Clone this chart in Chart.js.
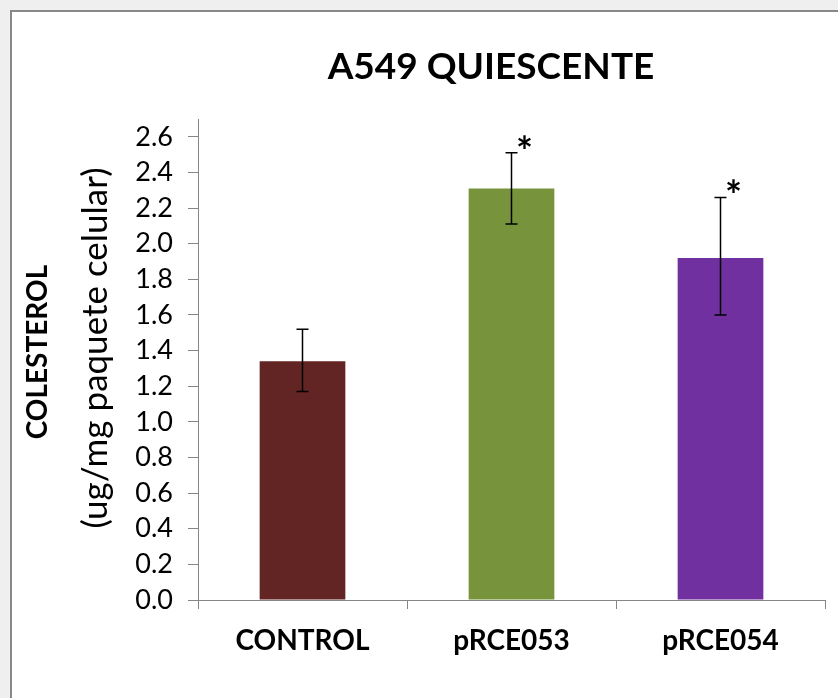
<!DOCTYPE html>
<html>
<head>
<meta charset="utf-8">
<script src="https://cdn.jsdelivr.net/npm/chart.js@4.4.1/dist/chart.umd.min.js"></script>
<style>
  html, body { margin: 0; padding: 0; }
  body { width: 838px; height: 698px; background: #efefef; position: relative; overflow: hidden; }
  #frame { position: absolute; left: 10px; top: 10px; width: 900px; height: 800px;
           background: #ffffff; border-left: 2px solid #888888; border-top: 2px solid #888888; }
  #wrap { position: absolute; left: 0; top: 0; width: 838px; height: 698px; }
</style>
</head>
<body>
<div id="frame"></div>
<div id="wrap"><canvas id="c" width="838" height="698"></canvas></div>
<script>
// Cholesterol content per cell pellet, quiescent A549 cells
const categories = ['CONTROL', 'pRCE053', 'pRCE054'];
const cholesterol = [1.34, 2.31, 1.92];
const errLow = [1.17, 2.11, 1.60];
const errHigh = [1.52, 2.51, 2.26];
const significance = ['', '*', '*'];
const barColors = ['#632523', '#77933C', '#7030A0'];
const yTickValues = [0.0, 0.2, 0.4, 0.6, 0.8, 1.0, 1.2, 1.4, 1.6, 1.8, 2.0, 2.2, 2.4, 2.6];
const chartTitle = 'A549 QUIESCENTE';
const yTitleMain = 'COLESTEROL';
const yTitleUnits = '(ug/mg paquete celular)';

const FONT = 'Lato, "Open Sans", "DejaVu Sans", sans-serif';

// Error bars with caps, plus significance marks above them
const errorBarPlugin = {
  id: 'errorBars',
  afterDatasetsDraw(chart) {
    const ctx = chart.ctx;
    const yScale = chart.scales.y;
    const meta = chart.getDatasetMeta(0);
    ctx.save();
    meta.data.forEach((bar, i) => {
      const x = bar.x;
      const yHi = yScale.getPixelForValue(errHigh[i]);
      const yLo = yScale.getPixelForValue(errLow[i]);
      ctx.strokeStyle = '#000000';
      ctx.lineWidth = 1.5;
      ctx.beginPath();
      ctx.moveTo(x, yHi); ctx.lineTo(x, yLo);
      ctx.moveTo(x - 6, yHi); ctx.lineTo(x + 6, yHi);
      ctx.moveTo(x - 6, yLo); ctx.lineTo(x + 6, yLo);
      ctx.stroke();
      if (significance[i]) {
        ctx.fillStyle = '#000000';
        ctx.font = 'bold 40px ' + FONT;
        ctx.textAlign = 'center';
        ctx.textBaseline = 'alphabetic';
        ctx.fillText(significance[i], x + 13, yHi + 13);
      }
    });
    ctx.restore();
  }
};

// Title centred over the plot, and a two-line vertical axis title
const textPlugin = {
  id: 'chartTexts',
  afterDraw(chart) {
    const ctx = chart.ctx;
    ctx.save();
    ctx.fillStyle = '#000000';
    ctx.textAlign = 'center';
    ctx.textBaseline = 'middle';
    ctx.font = 'bold 37px ' + FONT;
    ctx.fillText(chartTitle, 491, 67);
    ctx.restore();

    ctx.save();
    ctx.fillStyle = '#000000';
    ctx.textAlign = 'center';
    ctx.textBaseline = 'middle';
    ctx.translate(38, 352);
    ctx.rotate(-Math.PI / 2);
    ctx.font = 'bold 28px ' + FONT;
    ctx.fillText(yTitleMain, 0, 0);
    ctx.restore();

    ctx.save();
    ctx.fillStyle = '#000000';
    ctx.textAlign = 'center';
    ctx.textBaseline = 'middle';
    ctx.translate(96, 348);
    ctx.rotate(-Math.PI / 2);
    ctx.font = '35px ' + FONT;
    ctx.fillText(yTitleUnits, 0, 0);
    ctx.restore();
  }
};

new Chart(document.getElementById('c'), {
  type: 'bar',
  data: {
    labels: categories,
    datasets: [{
      data: cholesterol,
      backgroundColor: barColors,
      borderWidth: 0,
      barPercentage: 0.41,
      categoryPercentage: 1.0
    }]
  },
  plugins: [errorBarPlugin, textPlugin],
  options: {
    responsive: false,
    animation: false,
    devicePixelRatio: 1,
    layout: { padding: { left: 0, right: 13, top: 119, bottom: 0 } },
    plugins: {
      legend: { display: false },
      tooltip: { enabled: false },
      title: { display: false }
    },
    scales: {
      x: {
        offset: true,
        grid: { offset: true, drawOnChartArea: false, drawTicks: true, tickLength: 9, color: '#868686' },
        border: { display: true, color: '#868686', width: 1 },
        ticks: { color: '#000000', padding: 15, font: { family: FONT, size: 28, weight: 'bold' } },
        afterFit(scale) { scale.height = 98; }
      },
      y: {
        min: 0,
        max: 2.7,
        afterBuildTicks(scale) { scale.ticks = yTickValues.map(v => ({ value: v })); },
        grid: { drawOnChartArea: false, drawTicks: true, tickLength: 10, color: '#868686' },
        border: { display: true, color: '#868686', width: 1 },
        ticks: {
          color: '#000000',
          padding: 15,
          font: { family: FONT, size: 27 },
          callback: (v) => Number(v).toFixed(1)
        },
        afterFit(scale) { scale.width = 198; }
      }
    }
  }
});
</script>
</body>
</html>
